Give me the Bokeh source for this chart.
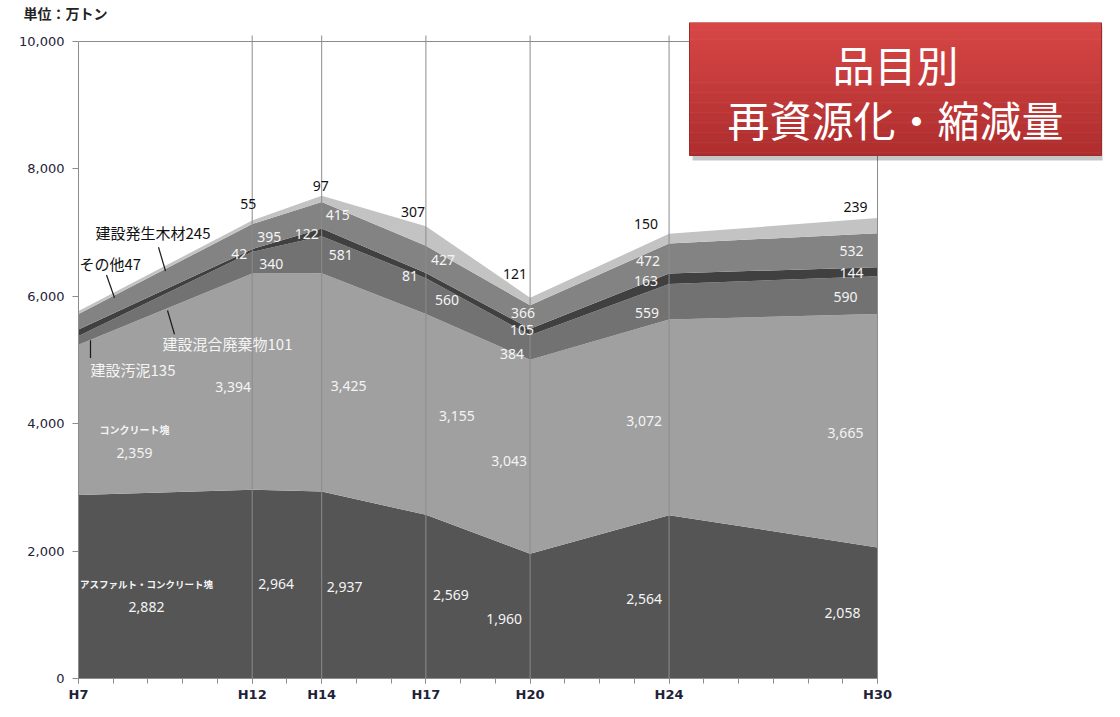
from bokeh.plotting import figure
from bokeh.models import (ColumnDataSource, Range1d, FixedTicker, NumeralTickFormatter,
                          CustomJSTickFormatter)
from bokeh.core.properties import value
from bokeh.embed import file_html
from bokeh.resources import INLINE

# ---------------- data ----------------
years = [7, 12, 14, 17, 20, 24, 30]          # Heisei year (H7 ... H30)
asphalt = [2882, 2964, 2937, 2569, 1960, 2564, 2058]   # アスファルト・コンクリート塊
concrete = [2359, 3394, 3425, 3155, 3043, 3072, 3665]  # コンクリート塊
sludge = [135, 340, 581, 560, 384, 559, 590]           # 建設汚泥
mixed = [101, 42, 122, 81, 105, 163, 144]              # 建設混合廃棄物
wood = [245, 395, 415, 427, 366, 472, 532]             # 建設発生木材
other = [47, 55, 97, 307, 121, 150, 239]               # その他
names = ["アスファルト・コンクリート塊", "コンクリート塊", "建設汚泥", "建設混合廃棄物", "建設発生木材", "その他"]
y_ticks = [0, 2000, 4000, 6000, 8000, 10000]
y_max = 10000
unit_text = "単位：万トン"
title_lines = ["品目別", "再資源化・縮減量"]

keys = ["asphalt", "concrete", "sludge", "mixed", "wood", "other"]
series = [asphalt, concrete, sludge, mixed, wood, other]
colors = ["#555555", "#a0a0a0", "#727272", "#404040", "#838383", "#c3c3c3"]

# ---------------- geometry ----------------
LEFT, TOP = 78, 22            # frame left / top (px in canvas)
X_H30 = 877                   # px of last year
Y_ZERO, Y_MAX = 678, 41       # px of 0 and of y_max
W, H = 1104, 701
PXY = (X_H30 - LEFT) / (years[-1] - years[0])
PPU = (Y_ZERO - Y_MAX) / y_max
FW = W - LEFT - 2
FH = Y_ZERO - TOP
x_end = years[0] + FW / PXY
y_end = y_max + (Y_MAX - TOP) / PPU

# reference-picture mapping used to place call-outs relative to the data
R_X0, R_PXY, R_Y0, R_PPU = 77, 799 / 23, 685, 644 / 10000


def rx(px):
    return years[0] + (px - R_X0) / R_PXY


def ry(py):
    return (R_Y0 - py) / R_PPU


def fx(px):
    return years[0] + (px - LEFT) / PXY


def fy(py):
    return (Y_ZERO - py) / PPU


p = figure(frame_width=FW, frame_height=FH, output_backend="svg", toolbar_location=None,
           x_range=Range1d(years[0], x_end), y_range=Range1d(0, y_end),
           min_border_left=LEFT, min_border_right=W - LEFT - FW, min_border_top=TOP,
           min_border_bottom=H - Y_ZERO)
p.background_fill_color = "white"
p.border_fill_color = "white"
p.outline_line_color = None
p.xgrid.visible = False
p.ygrid.visible = False

# unit label as the title
p.title.text = unit_text
p.title.align = "left"
p.title.offset = 23 - LEFT
p.title.standoff = 0
p.title.text_font = "Noto Sans CJK JP"
p.title.text_font_size = "14px"
p.title.text_font_style = "bold"
p.title.text_color = "#222222"

src = ColumnDataSource(dict(year=years, **{k: s for k, s in zip(keys, series)}))
p.varea_stack(stackers=keys, x="year", color=colors, source=src)

# frame lines: top at y_max, right at last year, and year reference lines
GRID = "#8c8c8c"
p.segment(x0=[years[0], years[-1]], y0=[y_max, 0], x1=[years[-1], years[-1]], y1=[y_max, y_max],
          line_color=GRID, line_width=1)
p.segment(x0=years[1:-1], y0=[0] * 5, x1=years[1:-1], y1=[fy(35)] * 5, line_color=GRID, line_width=1)

# axes
p.yaxis.ticker = FixedTicker(ticks=y_ticks)
p.yaxis.formatter = NumeralTickFormatter(format="0,0")
p.yaxis.bounds = (0, y_max)
p.xaxis.ticker = FixedTicker(ticks=years, minor_ticks=list(range(years[0], years[-1] + 1)))
p.xaxis.formatter = CustomJSTickFormatter(code="return 'H' + tick")
p.xaxis.bounds = (years[0], years[-1])
for ax in (p.xaxis, p.yaxis):
    ax.axis_line_color = GRID
    ax.major_tick_line_color = GRID
    ax.minor_tick_line_color = GRID
    ax.major_tick_in = 0
    ax.minor_tick_in = 0
p.yaxis.major_tick_out = 6
p.yaxis.minor_tick_out = 0
p.xaxis.major_tick_out = 5
p.xaxis.minor_tick_out = 5
p.yaxis.major_label_text_font = "DejaVu Sans"
p.yaxis.major_label_text_font_size = "13px"
p.yaxis.major_label_text_color = "#1e2338"
p.yaxis.major_label_standoff = 8
p.xaxis.major_label_text_font = "DejaVu Sans"
p.xaxis.major_label_text_font_style = "bold"
p.xaxis.major_label_text_font_size = "13px"
p.xaxis.major_label_text_color = "#1e2338"
p.xaxis.major_label_standoff = 3

# ---------------- value labels ----------------
cum = []
base = [0] * len(years)
for s in series:
    cum.append(list(base))
    base = [b + v for b, v in zip(base, s)]
tops = base

# pixel nudges (dx, dy; dy positive = down) for years[1:]
offs = [
    [(24, 0), (23, 2), (25, -2), (-26, 3), (-25, 2), (-35, 0)],
    [(-19, 5), (27, 4), (31, 2), (-21, 4), (-25, 4), (-32, 2)],
    [(19, 1), (19, 0), (21, 4), (-18, 6), (-22, 11), (-32, 2)],
    [(-13, 4), (-15, 2), (-16, 0), (-8, -2), (-23, 2), (-26, 1)],
    [(17, 0), (16, 0), (17, 1), (-7, -4), (-21, 3), (-26, 1)],
]
other_offs = [(-4, -16), (-1, -10), (-13, -14), (-15, -24), (-23, -10), (-22, -11)]

wx, wy, wt = [], [], []
for li in range(5):
    for j in range(1, len(years)):
        mid = cum[li][j] + series[li][j] / 2
        dxp, dyp = offs[li][j - 1]
        wx.append(years[j] + dxp / PXY)
        wy.append(mid - dyp / PPU)
        wt.append(f"{series[li][j]:,}")
# H7 two-line labels for the bottom two layers (dx, dy name, dy value)
h7 = [(68, -3, 20), (56, 10, 33)]
for li in range(2):
    mid = cum[li][0] + series[li][0] / 2
    dxp, dn, dv = h7[li]
    wx.append(years[0] + dxp / PXY)
    wy.append(mid - dv / PPU)
    wt.append(f"{series[li][0]:,}")
p.text(x=wx, y=wy, text=wt, text_align="center", text_baseline="middle",
       text_font=value("Noto Sans"), text_font_size="14px", text_color="#f4f4f4")

nx, ny, nt = [], [], []
for li, fs in zip(range(2), ["9.5px", "10px"]):
    mid = cum[li][0] + series[li][0] / 2
    dxp, dn, dv = h7[li]
    p.text(x=[years[0] + dxp / PXY], y=[mid - dn / PPU], text=[names[li]], text_align="center",
           text_baseline="middle", text_font=value("Noto Sans CJK JP"), text_font_size=fs,
           text_font_style="bold", text_color="#f4f4f4")

bx, by, bt = [], [], []
for j in range(1, len(years)):
    dxp, dyp = other_offs[j - 1]
    bx.append(years[j] + dxp / PXY)
    by.append(tops[j] - dyp / PPU)
    bt.append(f"{other[j]:,}")
p.text(x=bx, y=by, text=bt, text_align="center", text_baseline="middle",
       text_font=value("Noto Sans"), text_font_size="14px", text_color="#111111")

# H7 call-outs for the thin layers
co_white = [(89, 373, f"{names[2]}{sludge[0]}"), (161, 346, f"{names[3]}{mixed[0]}")]
co_black = [(78, 265, f"{names[5]}{other[0]}"), (94, 234, f"{names[4]}{wood[0]}")]
p.text(x=[rx(a) for a, b, c in co_white], y=[ry(b) for a, b, c in co_white], text=[c for a, b, c in co_white],
       text_align="left", text_baseline="middle", text_font=value("Noto Sans CJK JP"),
       text_font_size="15px", text_color="#f4f4f4")
p.text(x=[rx(a) for a, b, c in co_black], y=[ry(b) for a, b, c in co_black], text=[c for a, b, c in co_black],
       text_align="left", text_baseline="middle", text_font=value("Noto Sans CJK JP"),
       text_font_size="15px", text_color="#111111")
leaders = [(89, 343, 89, 361), (166, 313, 173, 337), (105, 277, 113, 300), (157, 249, 164, 273)]
p.segment(x0=[rx(a) for a, b, c, d in leaders], y0=[ry(b) for a, b, c, d in leaders],
          x1=[rx(c) for a, b, c, d in leaders], y1=[ry(d) for a, b, c, d in leaders],
          line_color="#1a1a1a", line_width=1.2)

# ---------------- title box (gradient red, with shadow) ----------------
BL, BR, BT, BB = 689, W - 3, TOP, 155
p.quad(left=[fx(BL + 3)], right=[fx(BR + 2)], top=[fy(BT + 4)], bottom=[fy(BB + 5)],
       fill_color="#000000", fill_alpha=0.22, line_color=None)
N = 40
c0, c1 = (0xd8, 0x47, 0x47), (0xaf, 0x2e, 0x2e)
for i in range(N):
    t = i / (N - 1)
    col = "#%02x%02x%02x" % tuple(int(a + (b - a) * t) for a, b in zip(c0, c1))
    y_top = BT + (BB - BT) * i / N
    y_bot = BT + (BB - BT) * (i + 1) / N
    p.quad(left=[fx(BL)], right=[fx(BR)], top=[fy(y_top)], bottom=[fy(y_bot) - 0.5 / PPU],
           fill_color=col, line_color=None)
p.quad(left=[fx(BL)], right=[fx(BR)], top=[fy(BT)], bottom=[fy(BB)],
       fill_alpha=0, line_color="#9e2a2a", line_width=1)
cx = fx((BL + BR) / 2)
p.text(x=[cx, cx], y=[fy(63), fy(118)], text=title_lines, text_align="center", text_baseline="middle",
       text_font=value("Noto Sans CJK JP"), text_font_size="42px", text_color="white")

open("out.html", "w").write(file_html(p, INLINE))
